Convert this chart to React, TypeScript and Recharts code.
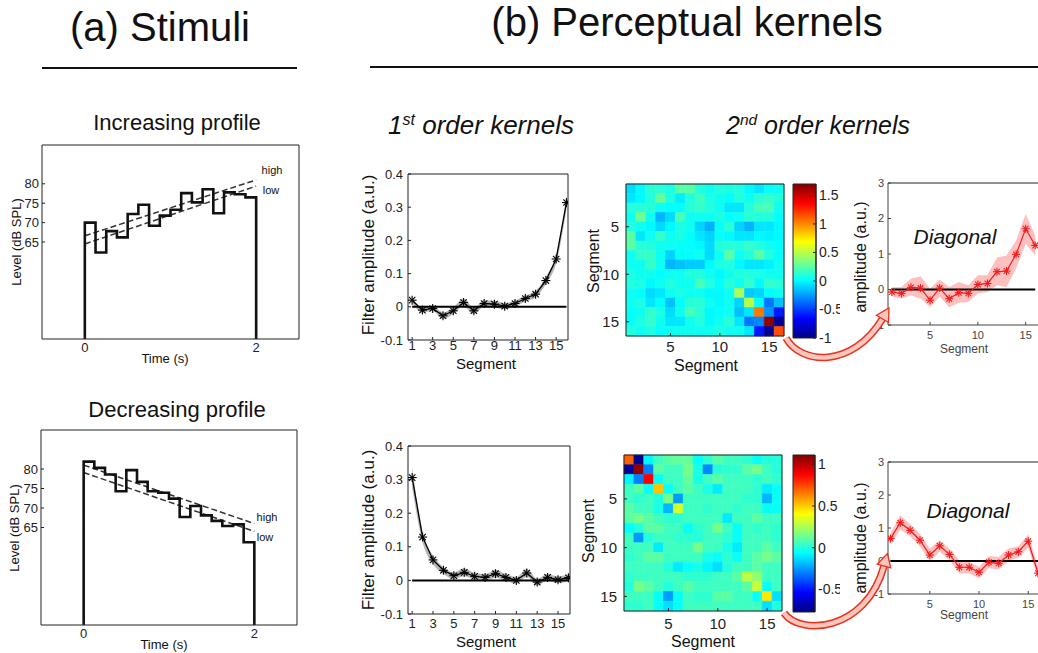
import React from 'react';
import {
  ComposedChart, LineChart, ScatterChart, Line, Area, Scatter,
  XAxis, YAxis, ReferenceLine, ReferenceArea,
} from 'recharts';

const FONT = '"Liberation Sans", Arial, Helvetica, sans-serif';

// ---------- (a) stimuli ----------
const TIMES = [0, 0.125, 0.25, 0.375, 0.5, 0.625, 0.75, 0.875, 1, 1.125, 1.25, 1.375, 1.5, 1.625, 1.75, 1.875, 2];
const INC_LEVELS = [70, 62.3, 67.8, 66.2, 72.2, 74.6, 69.2, 71.8, 73.3, 77.6, 75.2, 78.6, 72.4, 77.8, 77.3, 76.5];
const DEC_LEVELS = [81.9, 80.3, 78.6, 74.3, 79.7, 76.7, 74.3, 73.9, 72.4, 67.7, 70.5, 68.1, 66.7, 65.4, 65.8, 61.2];
const FLOOR_DB = 40;
const INC_HIGH = [66.6, 81.0];
const INC_LOW = [64.5, 79.4];
const DEC_HIGH = [81.0, 66.0];
const DEC_LOW = [79.1, 64.0];
const LEVEL_TICKS = [65, 70, 75, 80];
const TIME_TICKS = [0, 2];

// ---------- (b) 1st order kernels ----------
const SEGMENTS = [1, 2, 3, 4, 5, 6, 7, 8, 9, 10, 11, 12, 13, 14, 15, 16];
const K1_INC = [0.02, -0.01, -0.005, -0.027, -0.012, 0.013, -0.012, 0.01, 0.008, 0.002, 0.01, 0.025, 0.038, 0.079, 0.144, 0.314];
const K1_INC_ERR = [0.008, 0.008, 0.008, 0.01, 0.01, 0.012, 0.01, 0.01, 0.01, 0.009, 0.009, 0.009, 0.01, 0.011, 0.013, 0.02];
const K1_DEC = [0.306, 0.129, 0.061, 0.03, 0.014, 0.024, 0.012, 0.009, 0.02, 0.009, 0.0, 0.022, -0.005, 0.009, 0.002, 0.008];
const K1_DEC_ERR = [0.03, 0.016, 0.013, 0.01, 0.01, 0.012, 0.01, 0.01, 0.012, 0.01, 0.01, 0.012, 0.01, 0.01, 0.01, 0.01];
const K1_XTICKS = [1, 3, 5, 7, 9, 11, 13, 15];
const K1_YTICKS = [-0.1, 0, 0.1, 0.2, 0.3, 0.4];

// ---------- (b) 2nd order kernels ----------
const K2_INC = [
  [-0.08, 0, 0.12, 0.12, 0.08, 0.25, 0.25, 0.1, 0.05, 0.1, 0.08, 0.1, 0, -0.05, 0.02, 0.05],
  [-0.05, 0, 0.1, 0.28, 0.1, -0.03, 0.1, 0.18, 0.08, 0.05, 0.02, 0.1, 0.05, 0.12, 0.15, 0.1],
  [0.1, 0.12, 0.12, 0.05, 0.02, 0.02, 0.12, 0.15, 0.1, 0.05, -0.05, -0.05, 0.1, 0.2, 0.2, 0.05],
  [0.05, 0.3, 0.05, -0.18, -0.08, 0.2, 0.05, 0.05, 0.05, 0.08, 0.02, 0.05, 0.12, 0.1, 0.1, 0.02],
  [0.1, 0.05, 0, -0.08, 0, 0.08, 0.05, -0.1, -0.2, 0.03, 0.12, -0.1, -0.18, -0.05, -0.05, 0],
  [0.25, -0.05, 0.05, 0.15, 0.05, 0.08, 0.02, -0.05, -0.1, 0.03, 0, -0.05, -0.05, 0, -0.02, 0],
  [0.25, 0.12, 0.1, 0.05, 0.05, 0.03, 0.02, 0, -0.08, 0.1, 0.12, 0.1, 0.15, 0.1, 0.05, 0.02],
  [0.05, 0.15, 0.15, 0.05, -0.1, 0.02, 0.02, 0.05, -0.08, 0.05, 0.25, 0.05, 0.1, 0.25, 0.1, 0.02],
  [0.05, 0.05, 0.15, 0.05, -0.18, -0.15, -0.12, -0.12, 0, 0.08, 0.1, 0, -0.05, -0.05, -0.02, 0.05],
  [0.08, 0.05, 0.05, 0.02, 0.05, 0.05, 0.1, 0.1, 0.05, 0, 0.05, 0.1, 0.1, 0.08, 0.05, 0.05],
  [0.1, 0.08, 0, 0.05, 0.1, 0.05, 0.05, 0.2, 0.1, 0.02, 0.12, 0.05, 0.15, 0, 0.15, 0.12],
  [0.05, 0.02, -0.08, -0.05, 0.05, 0.08, 0.05, 0.05, 0, 0, 0.05, 0.46, -0.12, -0.1, 0.02, 0.05],
  [0.05, 0.08, -0.05, 0.02, -0.15, 0.02, 0.12, 0.12, 0.05, 0, 0.05, -0.1, 0.5, 0.02, -0.35, -0.15],
  [0.02, 0.05, 0.15, 0.08, -0.08, 0.05, 0.2, 0.12, 0, 0.02, 0.05, -0.15, -0.05, 1.05, -0.27, -0.6],
  [0.02, 0.08, 0.15, 0.05, -0.05, -0.05, 0.05, 0.1, 0, 0.05, 0.12, -0.05, -0.35, -0.3, 1.65, -0.95],
  [0.1, 0.05, 0.08, 0.02, 0.05, 0.05, 0.05, 0.05, 0.05, 0.08, 0.05, 0.05, -0.05, -0.6, -0.95, 1.16],
];
const K2_DEC = [
  [0.7, -0.75, -0.08, 0.05, 0.1, 0.12, 0.12, -0.06, 0.02, 0.1, 0.05, 0.05, 0.02, -0.05, 0, 0],
  [-0.72, 1.08, -0.3, 0.1, 0.05, 0.05, 0.15, -0.02, -0.28, 0, 0.02, 0.02, 0.1, 0.15, 0.05, 0],
  [-0.08, -0.3, 0.88, -0.05, 0.05, 0.05, 0.12, -0.02, 0.05, 0.1, 0.05, 0.05, 0.05, 0.02, 0.05, 0.02],
  [0.05, 0.1, -0.05, 0.52, -0.05, 0.05, 0.1, 0.05, -0.02, -0.1, 0.05, 0.05, 0.05, 0.02, -0.1, -0.05],
  [0.05, 0.02, 0.05, 0, 0.15, -0.25, 0.05, 0.05, 0.05, 0.05, 0.05, 0.05, 0.02, 0.02, -0.2, -0.05],
  [0.1, 0.05, 0.05, -0.02, -0.2, 0.32, 0.05, 0.05, 0.02, 0.05, 0.05, 0.02, 0.05, 0.05, -0.05, -0.05],
  [0.1, 0.15, 0.1, 0.05, 0.02, 0.02, 0.05, 0.05, 0.05, 0.05, -0.1, 0.05, 0.05, 0.1, 0.05, 0.05],
  [-0.06, 0, 0.1, 0.1, 0.05, 0.05, -0.05, 0.02, 0.05, 0.15, 0.05, -0.05, 0.05, 0.02, 0.05, 0.02],
  [0.05, -0.25, 0, 0.05, 0.05, 0.02, 0.02, 0, 0.05, 0.05, 0.02, -0.05, 0.05, 0.05, 0.05, 0.02],
  [0.05, 0.05, 0.05, -0.1, 0.05, 0.05, 0.05, 0.15, 0.05, 0.05, -0.02, -0.1, 0.05, 0.05, 0.1, 0.05],
  [0.02, 0.05, 0.1, 0.1, 0.05, 0.05, 0.05, 0.05, -0.02, -0.05, 0.02, -0.05, 0.05, 0.1, 0.15, 0.1],
  [0.05, 0.05, 0.05, 0.05, 0, -0.1, -0.05, -0.02, -0.08, -0.12, 0, 0.05, 0.05, 0.1, 0.05, 0.05],
  [0.02, 0.05, 0.05, 0.05, 0.05, 0.05, 0.02, 0.02, 0.02, 0.05, 0.05, 0.1, 0.28, 0.2, 0.05, 0.05],
  [0, 0.15, 0.1, 0.05, 0, 0.05, 0.1, 0.05, 0.05, 0.05, 0.05, 0.05, 0.1, 0.3, -0.05, 0.05],
  [0.05, 0.05, 0.05, -0.05, -0.25, -0.05, 0.05, 0.02, 0.02, 0.1, 0.1, 0.05, 0.05, -0.05, 0.45, -0.12],
  [0.02, 0.02, 0.05, -0.05, -0.12, -0.05, 0.05, 0.05, 0.05, 0.05, 0.05, 0.05, 0.05, 0.05, -0.12, 0],
];
const K2_INC_RANGE = [-1, 1.7];
const K2_DEC_RANGE = [-0.77, 1.11];
const CBAR_INC_TICKS = [-1, -0.5, 0, 0.5, 1, 1.5];
const CBAR_DEC_TICKS = [-0.5, 0, 0.5, 1];
const HEAT_TICKS = [5, 10, 15];

// ---------- (b) diagonal of 2nd order kernels ----------
const DIAG_INC = [-0.07, -0.11, 0.06, 0.04, -0.3, 0.04, -0.26, -0.09, -0.11, 0.14, 0.17, 0.5, 0.52, 0.99, 1.71, 1.24];
const DIAG_INC_HI = [0.06, 0.07, 0.3, 0.37, 0.03, 0.28, 0.07, 0.21, 0.12, 0.4, 0.4, 0.9, 0.96, 1.38, 2.13, 1.52];
const DIAG_INC_LO = [-0.2, -0.25, -0.16, -0.25, -0.49, -0.2, -0.5, -0.37, -0.35, -0.11, -0.07, 0.12, 0.07, 0.59, 1.29, 0.96];
const DIAG_DEC = [0.68, 1.16, 0.93, 0.63, 0.18, 0.46, 0.2, -0.19, -0.19, -0.34, -0.04, -0.07, 0.18, 0.28, 0.6, -0.37];
const DIAG_DEC_HI = [0.85, 1.39, 1.12, 0.82, 0.38, 0.63, 0.38, 0.02, -0.02, -0.18, 0.15, 0.12, 0.38, 0.45, 0.8, -0.2];
const DIAG_DEC_LO = [0.5, 0.95, 0.75, 0.45, 0.0, 0.28, 0.02, -0.38, -0.38, -0.52, -0.22, -0.25, 0.0, 0.1, 0.4, -0.55];
const DIAG_YTICKS = [-1, 0, 1, 2, 3];
const DIAG_XTICKS = [5, 10, 15];

const JET_STOPS = [
  [0, '#000080'], [0.125, '#0000ff'], [0.375, '#00ffff'], [0.625, '#ffff00'], [0.875, '#ff0000'], [1, '#800000'],
];

const jet = (v: number, range: number[]) => {
  const t = Math.min(1, Math.max(0, (v - range[0]) / (range[1] - range[0])));
  const ch = (c: number) => Math.round(255 * Math.min(1, Math.max(0, 1.5 - Math.abs(4 * t - c))));
  return `rgb(${ch(3)},${ch(2)},${ch(1)})`;
};

const axis = (fontSize: number, margin: number, color = '#222') => ({
  stroke: color,
  tickSize: -3,
  tickMargin: margin,
  interval: 0 as const,
  allowDataOverflow: true,
  tick: { fontSize, fill: color, fontFamily: FONT },
});
const frame = { stroke: '#222', tick: false, tickSize: -3, allowDataOverflow: true, interval: 0 as const };

const starDot = (color: string, r: number) => (p: any) => {
  const { cx, cy, index } = p;
  if (cx == null || cy == null) return <g key={`s-${index}`} />;
  const d = r * 0.7071;
  return (
    <g key={`s-${index}`} stroke={color} strokeWidth={1.1}>
      <line x1={cx - r} y1={cy} x2={cx + r} y2={cy} />
      <line x1={cx} y1={cy - r} x2={cx} y2={cy + r} />
      <line x1={cx - d} y1={cy - d} x2={cx + d} y2={cy + d} />
      <line x1={cx - d} y1={cy + d} x2={cx + d} y2={cy - d} />
    </g>
  );
};

const Txt = ({ x, y, size, rot, italic, color, children }: any) => (
  <div
    style={{
      position: 'absolute', left: x, top: y, fontSize: size, lineHeight: 1, whiteSpace: 'nowrap',
      transform: `translate(-50%, -50%)${rot ? ` rotate(${rot}deg)` : ''}`,
      fontStyle: italic ? 'italic' : 'normal', color: color || '#111',
    }}
  >
    {children}
  </div>
);

const Sup = ({ children }: any) => (
  <span style={{ fontSize: '0.62em', position: 'relative', top: '-0.55em' }}>{children}</span>
);

// step profile + two dashed reference ramps
const StimChart = ({ levels, high, low, g }: any) => {
  const steps = [{ t: TIMES[0], v: FLOOR_DB }];
  levels.forEach((v: number, i: number) => steps.push({ t: TIMES[i], v }));
  steps.push({ t: TIMES[16], v: levels[15] }, { t: TIMES[16], v: FLOOR_DB });
  const hi = [{ t: TIMES[0], v: high[0] }, { t: TIMES[16], v: high[1] }];
  const lo = [{ t: TIMES[0], v: low[0] }, { t: TIMES[16], v: low[1] }];
  return (
    <div style={{ position: 'absolute', left: g.left, top: g.top }}>
      <LineChart width={g.w} height={g.h} margin={{ top: g.mt, right: g.mr, left: 0, bottom: 0 }}>
        <XAxis dataKey="t" type="number" domain={[-0.5, 2.5]} ticks={TIME_TICKS} height={g.xh} {...axis(13, 7)} />
        <XAxis xAxisId="top" orientation="top" type="number" domain={[-0.5, 2.5]} ticks={TIME_TICKS} height={1} {...frame} />
        <YAxis type="number" domain={[40, 90]} ticks={LEVEL_TICKS} width={g.yw} {...axis(13, 6)} />
        <YAxis yAxisId="right" orientation="right" type="number" domain={[40, 90]} ticks={LEVEL_TICKS} width={1} {...frame} />
        <Line data={hi} dataKey="v" type="linear" stroke="#333" strokeWidth={1.5} strokeDasharray="6 3" dot={false} isAnimationActive={false} />
        <Line data={lo} dataKey="v" type="linear" stroke="#333" strokeWidth={1.5} strokeDasharray="6 3" dot={false} isAnimationActive={false} />
        <Line data={steps} dataKey="v" type="stepAfter" stroke="#111" strokeWidth={2.6} dot={false} isAnimationActive={false} />
      </LineChart>
    </div>
  );
};

const KernelChart = ({ values, errs, g }: any) => {
  const data = SEGMENTS.map((s, i) => ({ s, v: values[i], band: [values[i] - errs[i], values[i] + errs[i]] }));
  return (
    <div style={{ position: 'absolute', left: g.left, top: g.top }}>
      <ComposedChart width={g.w} height={g.h} data={data} margin={{ top: g.mt, right: g.mr, left: 0, bottom: 0 }}>
        <XAxis dataKey="s" type="number" domain={[0.6, 16.15]} ticks={K1_XTICKS} height={g.xh} {...axis(13, g.tm)} />
        <XAxis xAxisId="top" orientation="top" type="number" domain={[0.6, 16.15]} ticks={K1_XTICKS} height={1} {...frame} />
        <YAxis type="number" domain={[-0.1, 0.4]} ticks={K1_YTICKS} width={58} {...axis(13, 8)} />
        <YAxis yAxisId="right" orientation="right" type="number" domain={[-0.1, 0.4]} ticks={K1_YTICKS} width={1} {...frame} />
        <Area dataKey="band" type="monotone" stroke="none" fill="#a9a9a9" fillOpacity={0.85} isAnimationActive={false} />
        <ReferenceLine segment={[{ x: 1, y: 0 }, { x: 16, y: 0 }]} stroke="#000" strokeWidth={2} />
        <Line dataKey="v" type="linear" stroke="#000" strokeWidth={1.3} dot={starDot('#000', 4.5)} isAnimationActive={false} />
      </ComposedChart>
    </div>
  );
};

const DiagChart = ({ values, hi, lo, g }: any) => {
  const data = SEGMENTS.map((s, i) => ({ s, v: values[i], band: [lo[i], hi[i]] }));
  return (
    <div style={{ position: 'absolute', left: 840, top: g.top, width: 198, height: g.h, overflow: 'hidden', background: '#fff' }}>
      <ComposedChart width={210} height={g.h} data={data} margin={{ top: g.mt, right: g.mr, left: 0, bottom: 0 }}>
        <XAxis dataKey="s" type="number" domain={g.xd} ticks={DIAG_XTICKS} height={g.xh} {...axis(11, 9, '#444')} />
        <XAxis xAxisId="top" orientation="top" type="number" domain={g.xd} ticks={DIAG_XTICKS} height={1} {...frame} />
        <YAxis type="number" domain={[-1, 3]} ticks={DIAG_YTICKS} width={48} {...axis(11, 7, '#444')} />
        <YAxis yAxisId="right" orientation="right" type="number" domain={[-1, 3]} ticks={DIAG_YTICKS} width={1} {...frame} />
        <Area dataKey="band" type="linear" stroke="none" fill="#ff9595" fillOpacity={0.6} isAnimationActive={false} />
        <ReferenceLine segment={[{ x: 1, y: 0 }, { x: 16, y: 0 }]} stroke="#000" strokeWidth={1.8} />
        <Line dataKey="v" type="linear" stroke="#ee1c1c" strokeWidth={1.2} dot={starDot('#ee1c1c', 4)} isAnimationActive={false} />
      </ComposedChart>
    </div>
  );
};

const HeatMap = ({ matrix, range, g }: any) => {
  const cells: { x: number; y: number; v: number }[] = [];
  matrix.forEach((row: number[], r: number) => row.forEach((v, c) => cells.push({ x: c + 1, y: r + 1, v })));
  return (
    <div style={{ position: 'absolute', left: g.left, top: g.top }}>
      <ScatterChart width={g.w} height={g.h} margin={{ top: g.mt, right: g.mr, left: 0, bottom: 0 }}>
        <XAxis dataKey="x" type="number" domain={[0.5, 16.5]} ticks={HEAT_TICKS} height={g.xh} {...axis(15, g.tm)} />
        <XAxis xAxisId="top" orientation="top" type="number" domain={[0.5, 16.5]} ticks={HEAT_TICKS} height={1} {...frame} />
        <YAxis dataKey="y" type="number" reversed domain={[0.5, 16.5]} ticks={HEAT_TICKS} width={g.yw} {...axis(15, 10)} />
        <YAxis yAxisId="right" orientation="right" type="number" reversed domain={[0.5, 16.5]} ticks={HEAT_TICKS} width={1} {...frame} />
        <Scatter data={cells} shape={() => <g />} isAnimationActive={false} />
        {cells.map((c) => (
          <ReferenceArea
            key={`c-${c.x}-${c.y}`}
            x1={c.x - 0.5} x2={c.x + 0.5} y1={c.y - 0.5} y2={c.y + 0.5}
            fill={jet(c.v, range)} fillOpacity={1} stroke={jet(c.v, range)} strokeWidth={0.6}
            ifOverflow="visible"
          />
        ))}
      </ScatterChart>
    </div>
  );
};

const ColorBar = ({ range, ticks, g }: any) => (
  <div style={{ position: 'absolute', left: 790, top: g.top }}>
    <ComposedChart width={60} height={g.h} data={[{ x: 0 }, { x: 1 }]} margin={{ top: g.mt, right: 0, left: 3, bottom: g.mb }}>
      <XAxis dataKey="x" type="number" domain={[0, 1]} hide />
      <YAxis orientation="right" type="number" domain={range} ticks={ticks} width={g.yw} {...axis(14, 6)} />
      <ReferenceArea x1={0} x2={1} y1={range[0]} y2={range[1]} fill="url(#jetGrad)" fillOpacity={1} stroke="#222" strokeWidth={1} ifOverflow="visible" />
    </ComposedChart>
  </div>
);

const CurvedArrow = ({ d, head }: { d: string; head: string }) => (
  <g>
    <path d={d} fill="none" stroke="#e8321e" strokeWidth={7.5} />
    <path d={d} fill="none" stroke="#f8c6bd" strokeWidth={4.5} />
    <polygon points={head} fill="#f8c6bd" stroke="#e8321e" strokeWidth={1.3} />
  </g>
);

export default function App() {
  return (
    <div style={{ position: 'absolute', left: 0, top: 0, width: 1038, height: 653, overflow: 'hidden', background: '#fff', fontFamily: FONT, color: '#111' }}>
      <svg width={0} height={0} style={{ position: 'absolute' }}>
        <defs>
          <linearGradient id="jetGrad" x1="0" y1="1" x2="0" y2="0">
            {JET_STOPS.map(([o, c]) => <stop key={String(o)} offset={String(o)} stopColor={String(c)} />)}
          </linearGradient>
        </defs>
      </svg>

      {/* headers */}
      <Txt x={160} y={27} size={40}>(a) Stimuli</Txt>
      <Txt x={687} y={22} size={40}>(b) Perceptual kernels</Txt>
      <div style={{ position: 'absolute', left: 42, top: 67, width: 255, height: 2, background: '#111' }} />
      <div style={{ position: 'absolute', left: 370, top: 66, width: 668, height: 2, background: '#111' }} />

      {/* (a) */}
      <StimChart levels={INC_LEVELS} high={INC_HIGH} low={INC_LOW} g={{ left: 0, top: 135, w: 310, h: 232, mt: 9, mr: 10, yw: 42, xh: 28 }} />
      <StimChart levels={DEC_LEVELS} high={DEC_HIGH} low={DEC_LOW} g={{ left: 0, top: 420, w: 310, h: 233, mt: 9, mr: 12, yw: 41, xh: 28 }} />
      <Txt x={177} y={123} size={22}>Increasing profile</Txt>
      <Txt x={177} y={410} size={22}>Decreasing profile</Txt>
      <Txt x={16} y={242} size={13} rot={-90}>Level (dB SPL)</Txt>
      <Txt x={14} y={528} size={13} rot={-90}>Level (dB SPL)</Txt>
      <Txt x={165} y={358} size={13}>Time (s)</Txt>
      <Txt x={164} y={644} size={13}>Time (s)</Txt>
      <Txt x={272} y={170} size={11}>high</Txt>
      <Txt x={271} y={190} size={11}>low</Txt>
      <Txt x={267} y={517} size={11}>high</Txt>
      <Txt x={265} y={537} size={11}>low</Txt>

      {/* (b) 1st order */}
      <KernelChart values={K1_INC} errs={K1_INC_ERR} g={{ left: 350, top: 160, w: 240, h: 210, mt: 13, mr: 21, xh: 30, tm: 4 }} />
      <KernelChart values={K1_DEC} errs={K1_DEC_ERR} g={{ left: 350, top: 432, w: 240, h: 221, mt: 13, mr: 19, xh: 39, tm: 8 }} />
      <Txt x={481} y={125} size={26} italic>1<Sup>st</Sup> order kernels</Txt>
      <Txt x={368} y={255} size={17} rot={-90}>Filter amplitude (a.u.)</Txt>
      <Txt x={368} y={530} size={17} rot={-90}>Filter amplitude (a.u.)</Txt>
      <Txt x={486} y={363} size={15}>Segment</Txt>
      <Txt x={486} y={641} size={15}>Segment</Txt>

      {/* (b) 2nd order */}
      <HeatMap matrix={K2_INC} range={K2_INC_RANGE} g={{ left: 575, top: 170, w: 215, h: 205, mt: 13, mr: 5, yw: 51, xh: 39, tm: 8 }} />
      <HeatMap matrix={K2_DEC} range={K2_DEC_RANGE} g={{ left: 575, top: 440, w: 215, h: 213, mt: 14, mr: 7, yw: 49, xh: 42, tm: 10 }} />
      <ColorBar range={K2_INC_RANGE} ticks={CBAR_INC_TICKS} g={{ top: 175, h: 175, mt: 9, mb: 12, yw: 34 }} />
      <ColorBar range={K2_DEC_RANGE} ticks={CBAR_DEC_TICKS} g={{ top: 445, h: 175, mt: 10, mb: 8, yw: 35 }} />
      <Txt x={818} y={125} size={25} italic>2<Sup>nd</Sup> order kernels</Txt>
      <Txt x={706} y={366} size={16}>Segment</Txt>
      <Txt x={703} y={642} size={16}>Segment</Txt>
      <Txt x={594} y={261} size={16} rot={-90}>Segment</Txt>
      <Txt x={589} y={531} size={16} rot={-90}>Segment</Txt>

      {/* (b) diagonals */}
      <DiagChart values={DIAG_INC} hi={DIAG_INC_HI} lo={DIAG_INC_LO} g={{ top: 170, h: 190, mt: 12, mr: 9, xh: 35, xd: [0.6, 16.5] }} />
      <DiagChart values={DIAG_DEC} hi={DIAG_DEC_HI} lo={DIAG_DEC_LO} g={{ top: 450, h: 170, mt: 11, mr: 6, xh: 26, xd: [0.75, 16.5] }} />
      <Txt x={861} y={257} size={16} rot={-90}>amplitude (a.u.)</Txt>
      <Txt x={861} y={538} size={16} rot={-90}>amplitude (a.u.)</Txt>
      <Txt x={955} y={236} size={21} italic>Diagonal</Txt>
      <Txt x={968} y={510} size={21} italic>Diagonal</Txt>
      <Txt x={964} y={349} size={12} color="#444">Segment</Txt>
      <Txt x={964} y={615} size={12} color="#444">Segment</Txt>

      <svg width={1038} height={653} style={{ position: 'absolute', left: 0, top: 0, pointerEvents: 'none' }}>
        <CurvedArrow d="M 786 338 C 800 364, 852 370, 883 318" head="889,308 888.5,322.5 876.5,315.3" />
        <CurvedArrow d="M 784 613 C 800 636, 866 632, 884 566" head="887.4,553.5 890.7,567.8 877.3,564.2" />
      </svg>
    </div>
  );
}
